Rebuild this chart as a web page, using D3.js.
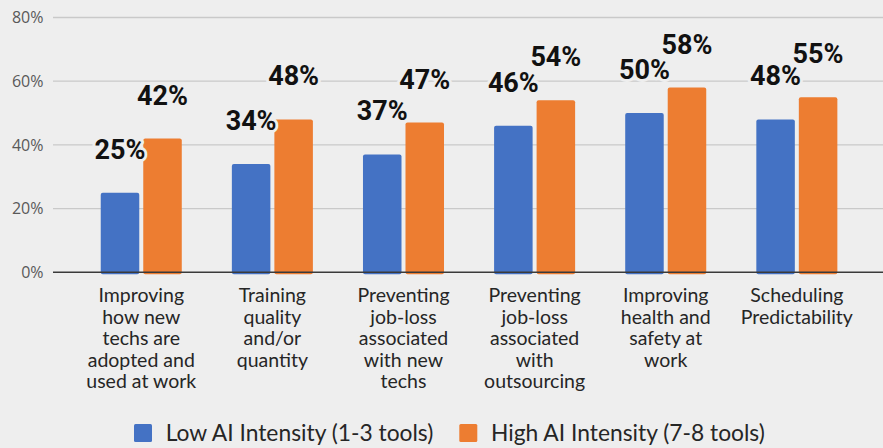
<!DOCTYPE html>
<html>
<head>
<meta charset="utf-8">
<script src="https://cdn.jsdelivr.net/npm/d3@7"></script>
<style>
  html, body { margin: 0; padding: 0; background: #eeeeee; }
  svg { display: block; }
</style>
</head>
<body>
<svg id="chart" width="883" height="448"></svg>
<script>
// data
var categories = [
  "Improving how new techs are adopted and used at work",
  "Training quality and/or quantity",
  "Preventing job-loss associated with new techs",
  "Preventing job-loss associated with outsourcing",
  "Improving health and safety at work",
  "Scheduling Predictability"
];
// how the category labels wrap under the axis
var categoryLines = [
  ["Improving", "how new", "techs are", "adopted and", "used at work"],
  ["Training", "quality", "and/or", "quantity"],
  ["Preventing", "job-loss", "associated", "with new", "techs"],
  ["Preventing", "job-loss", "associated", "with", "outsourcing"],
  ["Improving", "health and", "safety at", "work"],
  ["Scheduling", "Predictability"]
];
var seriesNames = ["Low AI Intensity (1-3 tools)", "High AI Intensity (7-8 tools)"];
var lowValues = [0.25, 0.34, 0.37, 0.46, 0.50, 0.48];
var highValues = [0.42, 0.48, 0.47, 0.54, 0.58, 0.55];
var yTicks = [0, 0.2, 0.4, 0.6, 0.8];

var colors = ["#4472c4", "#ed7d31"];
var bg = "#eeeeee";

var svg = d3.select("#chart");

var x0 = d3.scaleBand()
  .domain(categories)
  .range([75.7, 862.4])
  .paddingInner(0.382)
  .paddingOuter(0.191);

var x1 = d3.scaleBand()
  .domain(seriesNames)
  .range([0, x0.bandwidth()])
  .paddingInner(0.094);

var y = d3.scaleLinear()
  .domain([0, 0.8])
  .range([272.3, 17.5]);

var color = d3.scaleOrdinal().domain(seriesNames).range(colors);

// gridlines
svg.append("g")
  .selectAll("line")
  .data(yTicks.slice(1))
  .enter()
  .append("line")
  .attr("x1", 53)
  .attr("x2", 883)
  .attr("y1", function(d){ return y(d); })
  .attr("y2", function(d){ return y(d); })
  .attr("stroke", "#c9c9c9")
  .attr("stroke-width", 1.3);

// y axis labels
var yAxis = d3.axisLeft(y)
  .tickValues(yTicks)
  .tickFormat(d3.format(".0%"))
  .tickSize(0)
  .tickPadding(0);

var yg = svg.append("g")
  .attr("transform", "translate(43.5,0)")
  .call(yAxis);
yg.select(".domain").remove();
yg.selectAll("text")
  .attr("fill", "#595959")
  .style("font-family", "'Open Sans', sans-serif")
  .style("font-size", "16px");

// rows of data per series
var rows = seriesNames.map(function(name, s){
  var vals = s === 0 ? lowValues : highValues;
  return categories.map(function(c, i){ return {series: name, cat: c, value: vals[i]}; });
});

var groups = svg.append("g")
  .selectAll("g")
  .data(rows)
  .enter()
  .append("g")
  .attr("fill", function(d){ return color(d[0].series); });

groups.selectAll("rect")
  .data(function(d){ return d; })
  .enter()
  .append("rect")
  .attr("x", function(d){ return x0(d.cat) + x1(d.series); })
  .attr("y", function(d){ return y(d.value); })
  .attr("width", x1.bandwidth())
  .attr("height", function(d){ return y(0) - y(d.value) + 2; })
  .attr("rx", 2);

// baseline
svg.append("line")
  .attr("x1", 53)
  .attr("x2", 883)
  .attr("y1", y(0))
  .attr("y2", y(0))
  .attr("stroke", "#3a3a3a")
  .attr("stroke-width", 1.5);

// value labels, floating well above the bars
svg.append("g")
  .selectAll("text")
  .data(rows[0].concat(rows[1]))
  .enter()
  .append("text")
  .attr("x", function(d){ return x0(d.cat) + x1(d.series) + x1.bandwidth() / 2; })
  .attr("y", function(d){ return y(d.value) - 34; })
  .attr("text-anchor", "middle")
  .style("font-family", "Roboto, sans-serif")
  .style("font-weight", "700")
  .style("font-size", "27px")
  .attr("fill", "#111")
  .attr("stroke", bg)
  .attr("stroke-width", 6)
  .attr("stroke-linejoin", "round")
  .style("paint-order", "stroke")
  .text(function(d){ return Math.round(d.value * 100) + "%"; });

// category labels
var catLabels = svg.append("g")
  .selectAll("text")
  .data(categories)
  .enter()
  .append("text")
  .attr("text-anchor", "middle")
  .attr("fill", "#262626")
  .style("font-family", "Lato, sans-serif")
  .style("font-size", "19.5px")
  .attr("transform", function(d){ return "translate(" + (x0(d) + x0.bandwidth() / 2) + ",302)"; });

catLabels.selectAll("tspan")
  .data(function(d, i){ return categoryLines[i]; })
  .enter()
  .append("tspan")
  .attr("x", 0)
  .attr("y", function(d, i){ return i * 21.6; })
  .text(function(d){ return d; });

// legend
var legendX = [134, 459.3];
var legend = svg.append("g")
  .selectAll("g")
  .data(seriesNames)
  .enter()
  .append("g")
  .attr("transform", function(d, i){ return "translate(" + legendX[i] + ",424)"; });

legend.append("rect")
  .attr("width", 18)
  .attr("height", 18)
  .attr("rx", 1.5)
  .attr("fill", color);

legend.append("text")
  .attr("x", 31.7)
  .attr("y", 16.7)
  .attr("fill", "#262626")
  .style("font-family", "Lato, sans-serif")
  .style("font-size", "22.8px")
  .text(function(d){ return d; });
</script>
</body>
</html>
